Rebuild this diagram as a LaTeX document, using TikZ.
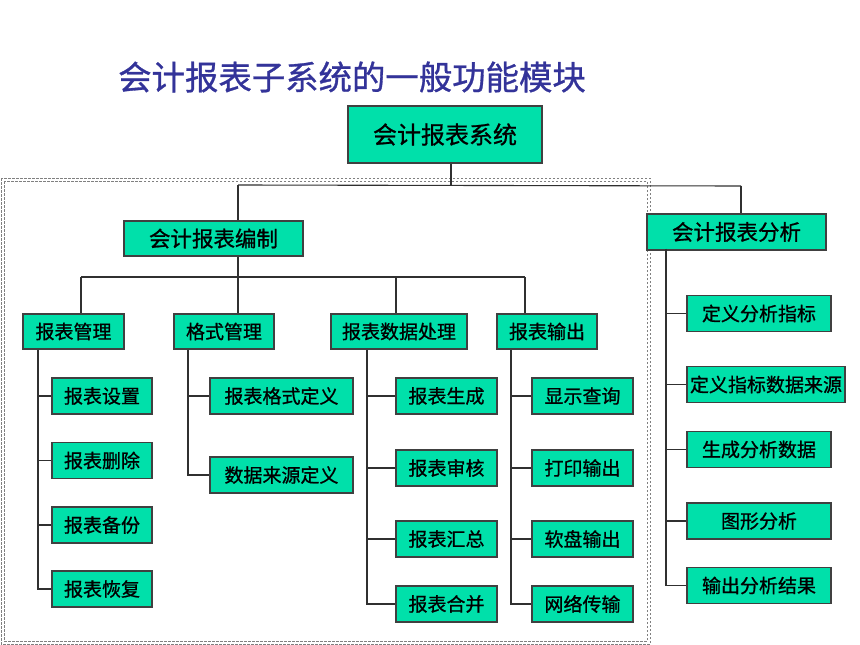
\documentclass[tikz,border=0pt]{standalone}
\usepackage{fontspec}
\setmainfont{Noto Sans CJK SC}[BoldFont=Noto Sans CJK SC, BoldFeatures={FakeBold=0.9}]
\definecolor{boxfill}{HTML}{00E0AA}
\definecolor{boxline}{HTML}{404040}
\definecolor{titlecol}{HTML}{333399}
\definecolor{lncol}{HTML}{303030}
\tikzset{
  bx/.style={draw=boxline, line width=1.1pt, fill=boxfill, inner sep=0pt, text=black,
    font=\fontsize{19pt}{19pt}\selectfont\bfseries},
  bxl/.style={bx, font=\fontsize{21.5pt}{21.5pt}\selectfont\bfseries},
  bxt/.style={bx, font=\fontsize{24pt}{24pt}\selectfont\bfseries},
  ln/.style={draw=lncol, line width=1.1pt},
  frm/.style={draw=gray, line width=0.9pt, dash pattern=on 2.5pt off 1.5pt}
}
\begin{document}
\begin{tikzpicture}[x=1pt,y=-1pt]
\useasboundingbox (0,0) rectangle (860,645);
% title
\node[anchor=west, text=titlecol, inner sep=0pt, font=\fontsize{33.4pt}{33.4pt}\selectfont\bfseries] (title) at (118,77) {会计报表子系统的一般功能模块};
% dashed frame
\draw[frm] (1,178) rectangle (650,644);
\draw[frm] (4,181) rectangle (647,641);
% boxes
\node[bxt, minimum width=194pt, minimum height=57pt] (top) at (445,134.5) {会计报表系统};
\node[bxl, minimum width=179pt, minimum height=35pt] (bz) at (213.5,238.5) {会计报表编制};
\node[bxl, minimum width=179pt, minimum height=36pt] (fx) at (736.5,232) {会计报表分析};
% second level
\node[bx, minimum width=101pt, minimum height=35pt] (m1) at (73.5,331.5) {报表管理};
\node[bx, minimum width=100pt, minimum height=35pt] (m2) at (224,331.5) {格式管理};
\node[bx, minimum width=136pt, minimum height=35pt] (m3) at (399,331.5) {报表数据处理};
\node[bx, minimum width=100pt, minimum height=35pt] (m4) at (547,331.5) {报表输出};
% children of m1
\node[bx, minimum width=100pt, minimum height=36pt] (a1) at (102,396) {报表设置};
\node[bx, minimum width=100pt, minimum height=36pt] (a2) at (102,460.5) {报表删除};
\node[bx, minimum width=100pt, minimum height=36pt] (a3) at (102,525) {报表备份};
\node[bx, minimum width=100pt, minimum height=36pt] (a4) at (102,589) {报表恢复};
% children of m2
\node[bx, minimum width=143pt, minimum height=36pt] (g1) at (281.5,396) {报表格式定义};
\node[bx, minimum width=143pt, minimum height=36pt] (g2) at (281.5,475) {数据来源定义};
% children of m3
\node[bx, minimum width=101pt, minimum height=36pt] (d1) at (446.5,396) {报表生成};
\node[bx, minimum width=101pt, minimum height=36pt] (d2) at (446.5,468) {报表审核};
\node[bx, minimum width=101pt, minimum height=36pt] (d3) at (446.5,539) {报表汇总};
\node[bx, minimum width=101pt, minimum height=36pt] (d4) at (446.5,604) {报表合并};
% children of m4
\node[bx, minimum width=101pt, minimum height=36pt] (o1) at (582.5,396) {显示查询};
\node[bx, minimum width=101pt, minimum height=36pt] (o2) at (582.5,468) {打印输出};
\node[bx, minimum width=101pt, minimum height=36pt] (o3) at (582.5,539) {软盘输出};
\node[bx, minimum width=101pt, minimum height=36pt] (o4) at (582.5,604) {网络传输};
% children of fx
\node[bx, minimum width=144pt, minimum height=36pt] (f1) at (759,313.5) {定义分析指标};
\node[bx, minimum width=158pt, minimum height=36pt] (f2) at (766,384.5) {定义指标数据来源};
\node[bx, minimum width=144pt, minimum height=36pt] (f3) at (759,449.5) {生成分析数据};
\node[bx, minimum width=144pt, minimum height=36pt] (f4) at (759,521) {图形分析};
\node[bx, minimum width=144pt, minimum height=36pt] (f5) at (759,585.5) {输出分析结果};
% junction coordinates
\coordinate (j0) at (451,185);
\coordinate (j1) at (238,185);
\coordinate (j2) at (741,186);
\coordinate (k0) at (238,277);
\coordinate (b1) at (81,277);
\coordinate (b2) at (238,277);
\coordinate (b3) at (396,277);
\coordinate (b4) at (525,277);
\coordinate (v1) at (38,0);
\coordinate (v2) at (188,0);
\coordinate (v3) at (367,0);
\coordinate (v4) at (511,0);
\coordinate (v5) at (666,0);
% connectors top
\draw[ln] (j0 |- top.south) -- (j0);
\draw[ln] (j1) -- (j2);
\draw[ln] (j1) -- (j1 |- bz.north);
\draw[ln] (j2) -- (j2 |- fx.north);
\draw[ln] (k0 |- bz.south) -- (k0);
\draw[ln] (b1) -- (b4);
\draw[ln] (b1) -- (b1 |- m1.north);
\draw[ln] (b2) -- (b2 |- m2.north);
\draw[ln] (b3) -- (b3 |- m3.north);
\draw[ln] (b4) -- (b4 |- m4.north);
% m1 branch
\draw[ln] (v1 |- m1.south) -- (v1 |- a4.west) -- (a4.west);
\foreach \c in {a1,a2,a3} \draw[ln] (v1 |- \c.west) -- (\c.west);
% m2 branch
\draw[ln] (v2 |- m2.south) -- (v2 |- g2.west) -- (g2.west);
\draw[ln] (v2 |- g1.west) -- (g1.west);
% m3 branch
\draw[ln] (v3 |- m3.south) -- (v3 |- d4.west) -- (d4.west);
\foreach \c in {d1,d2,d3} \draw[ln] (v3 |- \c.west) -- (\c.west);
% m4 branch
\draw[ln] (v4 |- m4.south) -- (v4 |- o4.west) -- (o4.west);
\foreach \c in {o1,o2,o3} \draw[ln] (v4 |- \c.west) -- (\c.west);
% fx branch
\draw[ln] ([yshift=2pt]v5 |- fx.south) -- (v5 |- f5.west) -- (f5.west);
\foreach \c in {f1,f2,f3,f4} \draw[ln] (v5 |- \c.west) -- (\c.west);
\end{tikzpicture}
\end{document}
